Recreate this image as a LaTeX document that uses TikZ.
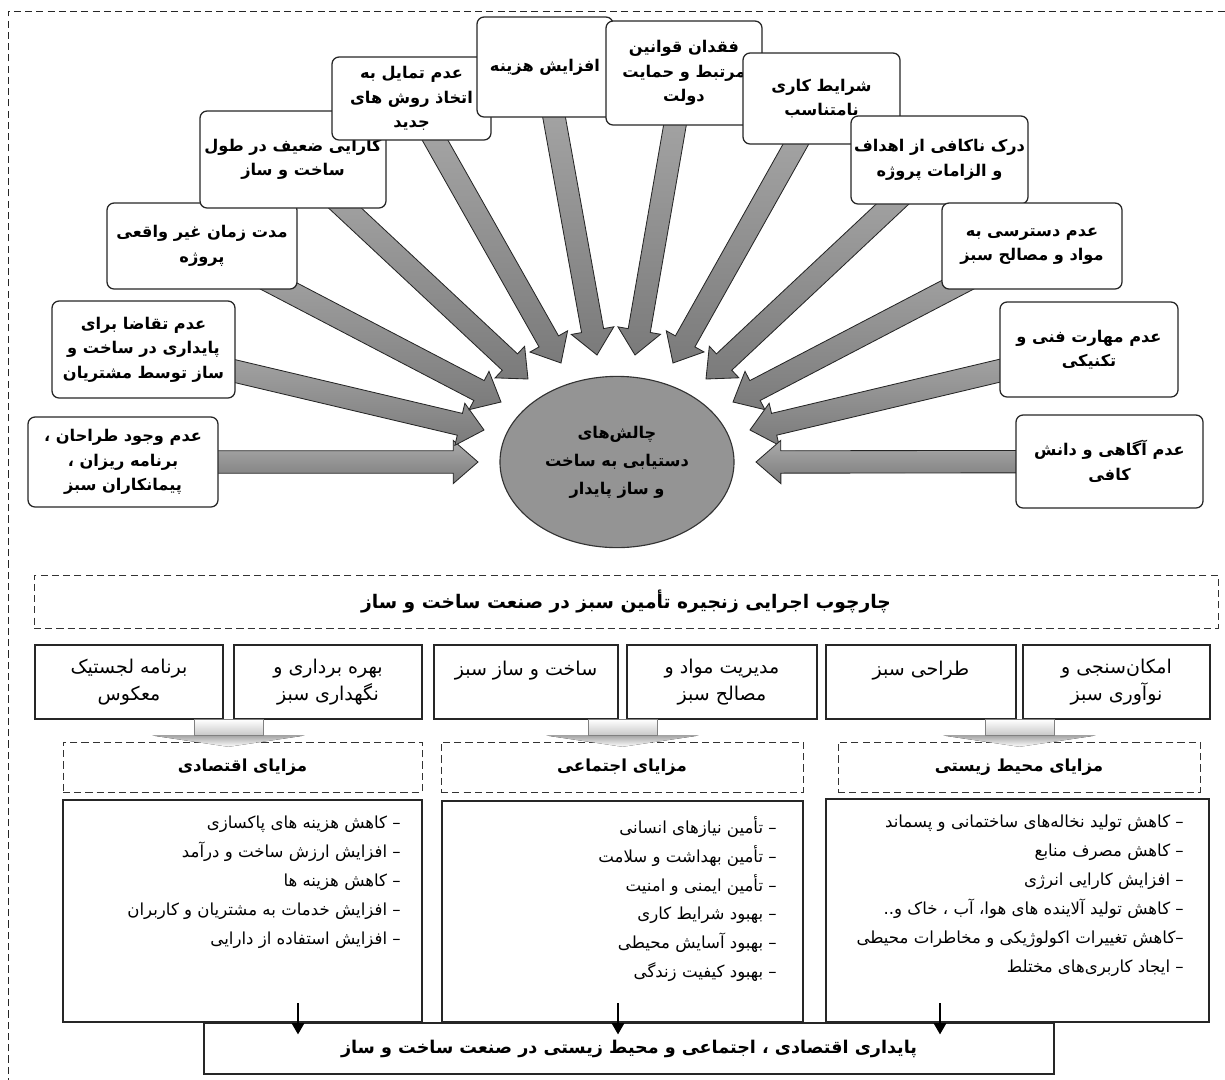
\documentclass[tikz,border=0pt]{standalone}
\usepackage{fontspec}
\setmainfont{DejaVu Sans}
\newfontfamily\farsi[Script=Arabic]{DejaVu Sans}
\TeXXeTstate=1
\usetikzlibrary{positioning, arrows.meta, backgrounds, shapes.geometric, calc}

\newcommand{\fa}[1]{\beginR #1\endR}

\begin{document}
\begin{tikzpicture}[
    x=0.025cm, y=-0.025cm,
    font=\farsi,
    cbox/.style={draw=black!85, fill=white, rounded corners=5pt, line width=0.9pt,
        align=center, inner sep=2pt, font=\farsi\bfseries\fontsize{11.5}{17.4}\selectfont},
    core/.style={ellipse, draw=black!80, fill=black!42, line width=0.8pt, inner sep=0pt,
        minimum width=5.85cm, minimum height=4.28cm, align=center,
        font=\farsi\bfseries\fontsize{11.5}{20}\selectfont},
    spoke/.style={draw=black!85, line width=0.6pt, top color=black!33, bottom color=black!52},
    frame/.style={draw=black!80, dash pattern=on 5pt off 3pt, line width=0.6pt,
        font=\farsi\bfseries\fontsize{13.3}{18}\selectfont},
    colbox/.style={draw=black!85, line width=0.8pt, fill=white, align=center,
        minimum height={74*\px}, font=\farsi\fontsize{13.5}{19.5}\selectfont},
    gainhead/.style={draw=black!80, dash pattern=on 5pt off 3pt, line width=0.6pt,
        minimum height={50*\px}, font=\farsi\bfseries\fontsize{11.8}{16}\selectfont},
    gainbox/.style={draw=black!85, line width=0.9pt},
    bullets/.style={anchor=north east, align=right, inner sep=0pt,
        font=\farsi\fontsize{11.8}{20.5}\selectfont},
    goal/.style={draw=black!85, line width=0.9pt, fill=white,
        font=\farsi\bfseries\fontsize{12.5}{16}\selectfont},
    stem/.style={draw=black!50, line width=0.5pt, top color=white, bottom color=black!22},
    stemhead/.style={top color=black!35, bottom color=white},
    drop/.style={draw=black, line width=0.9pt, -{Triangle[length=8pt, width=9pt]}},
    outline/.style={draw=black!85, dash pattern=on 5pt off 3pt, line width=0.7pt},
]

\def\px{0.025cm}
\def\shaftw{0.28cm}
\def\headw{0.54cm}
\def\headlen{0.62cm}

\useasboundingbox (0,0) rectangle (1225,1080);

% Outer dashed frame
\draw[outline] (8,1085) -- (8,11) -- (1230,11);

% Challenge boxes
\node[cbox, minimum width={190*\px}, minimum height={90*\px}] (c1) at (123,462)
    {\fa{عدم وجود طراحان ،}\\\fa{برنامه ریزان ،}\\\fa{پیمانکاران سبز}};
\node[cbox, minimum width={183*\px}, minimum height={97*\px}] (c2) at (143.5,349.5)
    {\fa{عدم تقاضا برای}\\\fa{پایداری در ساخت و}\\\fa{ساز توسط مشتریان}};
\node[cbox, minimum width={190*\px}, minimum height={86*\px}] (c3) at (202,246)
    {\fa{مدت زمان غیر واقعی}\\\fa{پروژه}};
\node[cbox, minimum width={186*\px}, minimum height={97*\px}] (c4) at (293,159.5)
    {\fa{کارایی ضعیف در طول}\\\fa{ساخت و ساز}};
\node[cbox, minimum width={159*\px}, minimum height={83*\px}] (c5) at (411.5,98.5)
    {\fa{عدم تمایل به}\\\fa{اتخاذ روش های}\\\fa{جدید}};
\node[cbox, minimum width={136*\px}, minimum height={100*\px}] (c6) at (545,67)
    {\fa{افزایش هزینه}};
\node[cbox, minimum width={156*\px}, minimum height={104*\px}] (c7) at (684,73)
    {\fa{فقدان قوانین}\\\fa{مرتبط و حمایت}\\\fa{دولت}};
\node[cbox, minimum width={157*\px}, minimum height={91*\px}] (c8) at (821.5,98.5)
    {\fa{شرایط کاری}\\\fa{نامتناسب}};
\node[cbox, minimum width={177*\px}, minimum height={88*\px}] (c9) at (939.5,160)
    {\fa{درک ناکافی از اهداف}\\\fa{و الزامات پروژه}};
\node[cbox, minimum width={180*\px}, minimum height={86*\px}] (c10) at (1032,246)
    {\fa{عدم دسترسی به}\\\fa{مواد و مصالح سبز}};
\node[cbox, minimum width={178*\px}, minimum height={95*\px}] (c11) at (1089,349.5)
    {\fa{عدم مهارت فنی و}\\\fa{تکنیکی}};
\node[cbox, minimum width={187*\px}, minimum height={93*\px}] (c12) at (1109.5,461.5)
    {\fa{عدم آگاهی و دانش}\\\fa{کافی}};

% Central ellipse
\node[core] (hub) at (617,462)
    {\fa{چالش‌های}\\\fa{دستیابی به ساخت}\\\fa{و ساز پایدار}};

% Block arrows into the ellipse
\begin{scope}[on background layer]
\foreach \b/\tx/\ty in {c1/478/462, c2/484/430, c3/501/402, c4/528/379,
                        c5/561/363, c6/597/355, c7/635/355, c8/673/363,
                        c9/706/379, c10/733/402, c11/750/430, c12/756/462} {
    \coordinate (tip) at (\tx,\ty);
    \coordinate (neck) at ($(tip)!\headlen!(\b.center)$);
    \draw[spoke] ($(\b.center)!\shaftw!90:(tip)$) -- ($(neck)!\shaftw!90:(tip)$)
        -- ($(neck)!\headw!90:(tip)$) -- (tip) -- ($(neck)!\headw!-90:(tip)$)
        -- ($(neck)!\shaftw!-90:(tip)$) -- ($(\b.center)!\shaftw!-90:(tip)$) -- cycle;
}
\end{scope}

% Framework header
\node[frame, minimum width={1184*\px}, minimum height={53*\px}] (frame) at (626,601.5)
    {\fa{چارچوب اجرایی زنجیره تأمین سبز در صنعت ساخت و ساز}};

% Framework stages
\node[colbox, minimum width={188*\px}] (colA) at (129,682) {\fa{برنامه لجستیک}\\\fa{معکوس}};
\node[colbox, minimum width={188*\px}] (colB) at (328,682) {\fa{بهره برداری و}\\\fa{نگهداری سبز}};
\node[colbox, minimum width={184*\px}] (colC) at (526,682) {\fa{ساخت و ساز سبز}\\\mbox{}};
\node[colbox, minimum width={190*\px}] (colD) at (722,682) {\fa{مدیریت مواد و}\\\fa{مصالح سبز}};
\node[colbox, minimum width={190*\px}] (colE) at (921,682) {\fa{طراحی سبز}\\\mbox{}};
\node[colbox, minimum width={187*\px}] (colF) at (1116.5,682) {\fa{امکان‌سنجی و}\\\fa{نوآوری سبز}};

% Benefit headings
\node[gainhead, minimum width={359*\px}] (econhead) at (242.5,767) {\fa{مزایای اقتصادی}};
\node[gainhead, minimum width={362*\px}] (sochead) at (622,767) {\fa{مزایای اجتماعی}};
\node[gainhead, minimum width={362*\px}] (envhead) at (1019,767) {\fa{مزایای محیط  زیستی}};

% Stage pairs feeding the headings
\foreach \l/\r in {colA/colB, colC/colD, colE/colF} {
    \coordinate (top) at ($(\l.south east)!0.5!(\r.south west)$);
    \fill[stemhead] ([xshift=-1.9cm, yshift=-0.4cm]top) -- ([xshift=1.9cm, yshift=-0.4cm]top)
        -- ([yshift=-0.68cm]top) -- cycle;
    \draw[stem] ([xshift=-0.86cm]top) rectangle ([xshift=0.86cm, yshift=-0.4cm]top);
}

% Benefit boxes
\node[gainbox, minimum width={359*\px}, minimum height={222*\px}] (econ) at (242.5,911) {};
\node[gainbox, minimum width={361*\px}, minimum height={221*\px}] (soc) at (622.5,911.5) {};
\node[gainbox, minimum width={383*\px}, minimum height={223*\px}] (env) at (1017.5,910.5) {};

\node[bullets] (econlist) at (401,816) {%
    \fa{– کاهش هزینه های پاکسازی}\\
    \fa{– افزایش ارزش ساخت و درآمد}\\
    \fa{– کاهش هزینه ها}\\
    \fa{– افزایش خدمات به مشتریان و کاربران}\\
    \fa{– افزایش استفاده از دارایی}};
\node[bullets] (soclist) at (777,816) {%
    \fa{– تأمین نیازهای انسانی}\\
    \fa{– تأمین بهداشت و سلامت}\\
    \fa{– تأمین ایمنی و امنیت}\\
    \fa{– بهبود شرایط کاری}\\
    \fa{–  بهبود آسایش محیطی}\\
    \fa{– بهبود کیفیت زندگی}};
\node[bullets] (envlist) at (1184,815) {%
    \fa{– کاهش تولید نخاله‌های ساختمانی و پسماند}\\
    \fa{– کاهش مصرف منابع}\\
    \fa{– افزایش کارایی انرژی}\\
    \fa{– کاهش تولید آلاینده های هوا، آب ، خاک و..}\\
    \fa{–کاهش تغییرات اکولوژیکی و مخاطرات محیطی}\\
    \fa{– ایجاد کاربری‌های مختلط}};

% Sustainability outcome
\node[goal, minimum width={850*\px}, minimum height={51*\px}] (goal) at (629,1048.5)
    {\fa{پایداری اقتصادی ، اجتماعی و محیط زیستی در صنعت ساخت و ساز}};

\coordinate (econdrop) at (298,1003);
\coordinate (socdrop) at (618,1003);
\coordinate (envdrop) at (940,1003);
\foreach \d in {econdrop, socdrop, envdrop}
    \draw[drop] (\d) -- ([yshift=-0.3cm]\d |- goal.north);

\end{tikzpicture}
\end{document}
